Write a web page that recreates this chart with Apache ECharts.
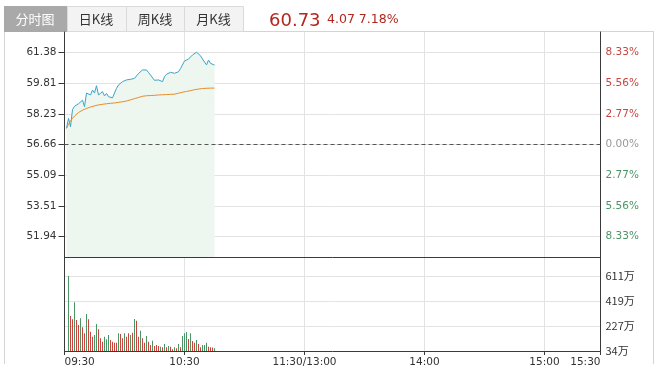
<!DOCTYPE html>
<html><head><meta charset="utf-8">
<script src="https://cdn.jsdelivr.net/npm/echarts@6/dist/echarts.min.js"></script>
<style>html,body{margin:0;padding:0;background:#fff}#c{width:662px;height:372px}</style>
</head><body><div id="c"></div>
<script>
// ---- data ----
const tabs = ['分时图', '日K线', '周K线', '月K线'];
const lastPrice = '60.73';
const change = '4.07';
const changePct = '7.18%';
const prevClose = 56.66;
// minutes after 09:30
const minutes = [1,2,3,4,5,6,7,8,9,10,11,12,13,14,15,16,17,18,19,20,21,22,23,24,25,26,27,28,29,30,31,32,33,34,35,36,37,38,39,40,41,42,43,44,45,46,47,48,49,50,51,52,53,54,55,56,57,58,59,60,61,62,63,64,65,66,67,68,69,70,71,72,73,74,75];
const price = [57.49,58.00,57.57,58.45,58.62,58.66,58.75,58.85,58.93,58.60,59.30,59.28,59.20,59.45,59.30,59.67,59.20,59.11,59.37,59.15,59.28,59.11,59.20,59.05,58.99,59.54,59.71,59.80,59.88,59.80,59.97,59.95,60.00,60.08,60.05,60.14,60.30,60.39,60.48,60.40,60.48,60.35,60.22,60.26,59.95,59.92,59.97,59.92,59.88,60.14,60.26,60.30,60.36,60.31,60.31,60.34,60.39,60.55,60.65,60.94,61.00,61.04,61.08,61.25,61.30,61.39,61.33,61.21,61.04,61.11,60.74,60.99,60.82,60.77,60.73];
const avgPrice = [57.49,57.70,57.86,58.00,58.12,58.22,58.30,58.36,58.42,58.47,58.51,58.55,58.58,58.61,58.64,58.67,58.69,58.71,58.72,58.74,58.75,58.76,58.77,58.78,58.79,58.80,58.82,58.83,58.85,58.87,58.89,58.92,58.95,58.98,59.01,59.04,59.07,59.10,59.13,59.15,59.16,59.17,59.17,59.18,59.18,59.19,59.20,59.20,59.21,59.21,59.22,59.22,59.23,59.23,59.24,59.26,59.29,59.31,59.34,59.36,59.38,59.40,59.42,59.45,59.47,59.49,59.50,59.52,59.53,59.54,59.54,59.55,59.55,59.55,59.55];
const volMinutes = [2,3,4,5,6,7,8,9,10,11,12,13,14,15,16,17,18,19,20,21,22,23,24,25,26,27,28,29,30,31,32,33,34,35,36,37,38,39,40,41,42,43,44,45,46,47,48,49,50,51,52,53,54,55,56,57,58,59,60,61,62,63,64,65,66,67,68,69,70,71,72,73,74,75];
// volume in 万
const volume = [611,303,278,409,272,234,285,216,170,319,278,183,144,157,242,201,132,106,144,124,157,119,106,98,98,170,165,132,170,144,170,157,175,280,267,144,190,132,98,149,106,80,113,72,80,72,67,62,88,62,72,67,47,62,55,88,62,149,170,180,126,170,111,98,119,88,62,80,80,98,67,62,60,55];
// 1 = up (red), -1 = down (green)
const volDir = [-1,1,1,-1,1,1,-1,1,1,-1,1,1,1,-1,-1,1,1,1,-1,-1,-1,1,1,1,1,-1,1,1,-1,1,1,-1,1,-1,1,1,-1,1,1,-1,1,1,-1,1,1,1,-1,1,-1,1,-1,1,1,-1,1,-1,1,-1,-1,-1,1,-1,1,1,-1,1,1,-1,-1,-1,1,1,1,-1];
const priceTicks = [51.94,53.51,55.09,56.66,58.23,59.81,61.38];
const pctLabels = ['8.33%','5.56%','2.77%','0.00%','2.77%','5.56%','8.33%'];
const pctSide = ['d','d','d','z','u','u','u'];
const volTicks = [34,227,419,611];
const volLabels = ['34万','227万','419万','611万'];
const timeTicks = [0,60,120,180,240,268];
const timeLabels = ['09:30','10:30','11:30/13:00','14:00','15:00','15:30'];

// ---- chart ----
const RED = '#c9443f', GREEN = '#4a9566';
const FONT = "'DejaVu Sans', sans-serif";
const CJK = "'Noto Sans CJK SC', sans-serif";
const chart = echarts.init(document.getElementById('c'), null, {renderer: 'canvas'});

const grid = [
  {left: 64.5, right: 61.5, top: 32, height: 225},
  {left: 64.5, right: 61.5, top: 257, height: 94}
];
const gridLineColor = '#e3e3e3';
const axisDark = '#3a3a3a';

const option = {
  animation: false,
  backgroundColor: '#fff',
  grid: grid,
  xAxis: [
    {type: 'value', gridIndex: 0, min: 0, max: 268,
      axisLine: {show: true, onZero: false, lineStyle: {color: axisDark}},
      axisTick: {show: false, customValues: timeTicks},
      axisLabel: {show: false, customValues: timeTicks},
      splitLine: {show: true, lineStyle: {color: gridLineColor}}},
    {type: 'value', gridIndex: 1, min: 0, max: 268,
      axisLine: {show: true, onZero: false, lineStyle: {color: axisDark}},
      axisTick: {show: true, length: 4, customValues: timeTicks, lineStyle: {color: axisDark}},
      axisLabel: {show: true, customValues: timeTicks, margin: 6, color: '#333', fontFamily: FONT, fontSize: 10.5,
        showMinLabel: true, showMaxLabel: true, alignMinLabel: 'left', alignMaxLabel: 'right',
        formatter: function (v) { const i = timeTicks.indexOf(v); return i >= 0 ? timeLabels[i] : ''; }},
      splitLine: {show: true, lineStyle: {color: gridLineColor}}}
  ],
  yAxis: [
    {type: 'value', gridIndex: 0, min: 50.894, max: 62.426, position: 'left',
      axisLine: {show: true, lineStyle: {color: axisDark}},
      axisTick: {show: true, length: 6, customValues: priceTicks, lineStyle: {color: axisDark}},
      axisLabel: {customValues: priceTicks, margin: 8, color: '#333', fontFamily: FONT, fontSize: 10.5,
        formatter: function (v) { return v.toFixed(2); }},
      splitLine: {show: true, lineStyle: {color: gridLineColor}}},
    {type: 'value', gridIndex: 0, min: 50.894, max: 62.426, position: 'right',
      axisLine: {show: true, lineStyle: {color: axisDark}},
      axisTick: {show: false, customValues: priceTicks},
      axisLabel: {customValues: priceTicks, margin: 5, fontFamily: FONT, fontSize: 10.5,
        formatter: function (v) {
          let i = -1; priceTicks.forEach(function (t, k) { if (Math.abs(t - v) < 0.005) i = k; });
          if (i < 0) return '';
          return '{' + pctSide[i] + '|' + pctLabels[i] + '}';
        },
        rich: {u: {color: RED, fontFamily: FONT, fontSize: 10.5}, d: {color: GREEN, fontFamily: FONT, fontSize: 10.5}, z: {color: '#999', fontFamily: FONT, fontSize: 10.5}}},
      splitLine: {show: false}},
    {type: 'value', gridIndex: 1, min: 34, max: 757, position: 'left',
      axisLine: {show: true, lineStyle: {color: axisDark}},
      axisTick: {show: false, customValues: volTicks},
      axisLabel: {show: false, customValues: volTicks},
      splitLine: {show: true, lineStyle: {color: gridLineColor}}},
    {type: 'value', gridIndex: 1, min: 34, max: 757, position: 'right',
      axisLine: {show: true, lineStyle: {color: axisDark}},
      axisTick: {show: false, customValues: volTicks},
      axisLabel: {customValues: volTicks, margin: 5, color: '#333', fontFamily: CJK, fontSize: 11,
        formatter: function (v) { const i = volTicks.indexOf(v); return i >= 0 ? volLabels[i] : ''; }},
      splitLine: {show: false}}
  ],
  series: [
    {type: 'line', xAxisIndex: 0, yAxisIndex: 0, showSymbol: false, symbol: 'none',
      data: minutes.map(function (m, i) { return [m, price[i]]; }),
      lineStyle: {color: '#3aa5c9', width: 1},
      areaStyle: {color: '#eef6f0', origin: 'start', opacity: 1},
      markLine: {silent: true, symbol: 'none', label: {show: false},
        lineStyle: {type: [4, 3], color: '#555', width: 1},
        data: [{yAxis: prevClose}]},
      z: 3},
    {type: 'line', xAxisIndex: 0, yAxisIndex: 0, showSymbol: false, symbol: 'none',
      data: minutes.map(function (m, i) { return [m, avgPrice[i]]; }),
      lineStyle: {color: '#eb8c22', width: 1}, z: 4},
    {type: 'bar', xAxisIndex: 1, yAxisIndex: 2, barWidth: 1,
      data: volMinutes.map(function (m, i) {
        return {value: [m, volume[i]], itemStyle: {color: volDir[i] > 0 ? RED : GREEN}};
      })}
  ],
  graphic: [
    // frame
    {type: 'line', shape: {x1: 4, y1: 31.5, x2: 654, y2: 31.5}, style: {stroke: '#d4d4d4', lineWidth: 1}, silent: true},
    {type: 'line', shape: {x1: 4.5, y1: 31, x2: 4.5, y2: 364}, style: {stroke: '#d4d4d4', lineWidth: 1}, silent: true},
    {type: 'line', shape: {x1: 653.5, y1: 31, x2: 653.5, y2: 364}, style: {stroke: '#d4d4d4', lineWidth: 1}, silent: true},
    // tabs
    {type: 'rect', shape: {x: 67.5, y: 6.5, width: 176, height: 25}, style: {fill: '#f3f3f3', stroke: '#dadada', lineWidth: 1}, silent: true},
    {type: 'line', shape: {x1: 126.5, y1: 6.5, x2: 126.5, y2: 31}, style: {stroke: '#dadada', lineWidth: 1}, silent: true},
    {type: 'line', shape: {x1: 184.5, y1: 6.5, x2: 184.5, y2: 31}, style: {stroke: '#dadada', lineWidth: 1}, silent: true},
    {type: 'rect', shape: {x: 4, y: 6, width: 63, height: 26}, style: {fill: '#a9a9a9'}, silent: true},
    {type: 'text', x: 35, y: 19.5, style: {text: tabs[0], fill: '#fff', font: '13px ' + CJK, textAlign: 'center', textVerticalAlign: 'middle'}, silent: true},
    {type: 'text', x: 96, y: 19.5, style: {text: tabs[1], fill: '#333', font: '13px ' + CJK, textAlign: 'center', textVerticalAlign: 'middle'}, silent: true},
    {type: 'text', x: 155, y: 19.5, style: {text: tabs[2], fill: '#333', font: '13px ' + CJK, textAlign: 'center', textVerticalAlign: 'middle'}, silent: true},
    {type: 'text', x: 213.5, y: 19.5, style: {text: tabs[3], fill: '#333', font: '13px ' + CJK, textAlign: 'center', textVerticalAlign: 'middle'}, silent: true},
    // header
    {type: 'text', x: 269, y: 21, style: {text: lastPrice, fill: '#b3261e', font: '18px ' + FONT, textAlign: 'left', textVerticalAlign: 'middle'}, silent: true},
    {type: 'text', x: 327, y: 19.5, style: {text: change + ' ' + changePct, fill: '#b3261e', font: '12.5px ' + FONT, textAlign: 'left', textVerticalAlign: 'middle'}, silent: true}
  ]
};
chart.setOption(option);
</script>
</body></html>
